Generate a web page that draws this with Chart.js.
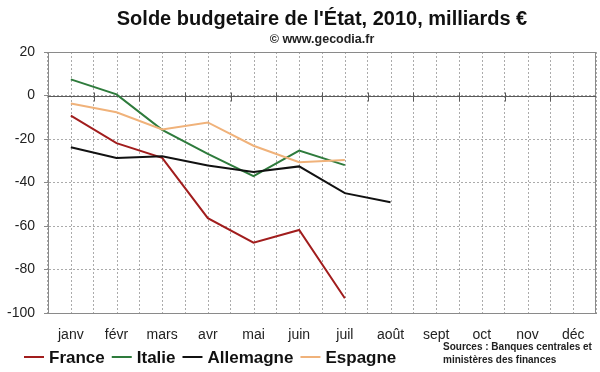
<!DOCTYPE html>
<html>
<head>
<meta charset="utf-8">
<script src="https://cdn.jsdelivr.net/npm/chart.js@4/dist/chart.umd.min.js"></script>
<style>
  html, body { margin: 0; padding: 0; background: #ffffff; }
  #wrap { width: 600px; height: 372px; }
</style>
</head>
<body>
<div id="wrap"><canvas id="c" width="600" height="372"></canvas></div>
<script>
const months = ['janv', 'févr', 'mars', 'avr', 'mai', 'juin', 'juil', 'août', 'sept', 'oct', 'nov', 'déc'];
const france    = [-9.3, -21.9, -28.7, -56.4, -67.7, -61.8, -93.2];
const italie    = [7.4, 0.5, -15.8, -26.8, -37.1, -25.3, -32.0];
const allemagne = [-23.8, -28.7, -27.9, -32.2, -35.2, -32.6, -44.9, -49.1];
const espagne   = [-3.7, -7.7, -15.6, -12.4, -23.1, -30.7, -29.7];
const yTicks = [20, 0, -20, -40, -60, -80, -100];
const seriesNames = ['France', 'Italie', 'Allemagne', 'Espagne'];
const titleText = "Solde budgetaire de l'État, 2010, milliards €";
const subtitleText = '© www.gecodia.fr';
const sourceLines = ['Sources : Banques centrales et', 'ministères des finances'];

Chart.defaults.font.family = "'Liberation Sans', Arial, sans-serif";
Chart.defaults.color = '#222222';

const extras = {
  id: 'extras',
  beforeDatasetsDraw(chart) {
    const ctx = chart.ctx;
    const a = chart.chartArea;
    const xs = chart.scales.x, ys = chart.scales.y;
    ctx.save();
    // dotted lines at category centres
    ctx.strokeStyle = '#ababab';
    ctx.lineWidth = 1;
    ctx.setLineDash([2, 2]);
    for (let i = 0; i < months.length; i++) {
      const px = Math.round(xs.getPixelForValue(i)) + 0.5;
      ctx.beginPath();
      ctx.moveTo(px, a.top);
      ctx.lineTo(px, a.bottom);
      ctx.stroke();
    }
    ctx.setLineDash([]);
    // top and right frame
    ctx.strokeStyle = '#8a8a8a';
    ctx.beginPath();
    ctx.moveTo(a.left, Math.round(a.top) + 0.5);
    ctx.lineTo(a.right, Math.round(a.top) + 0.5);
    ctx.moveTo(Math.round(a.right) - 0.5, a.top);
    ctx.lineTo(Math.round(a.right) - 0.5, a.bottom);
    ctx.stroke();
    // zero line with ticks at category boundaries
    const y0 = Math.round(ys.getPixelForValue(0)) + 0.5;
    ctx.strokeStyle = '#5a5a5a';
    ctx.beginPath();
    ctx.moveTo(a.left, y0);
    ctx.lineTo(a.right, y0);
    ctx.stroke();
    for (let i = 1; i < months.length; i++) {
      const px = Math.round((xs.getPixelForValue(i - 1) + xs.getPixelForValue(i)) / 2) + 0.5;
      ctx.beginPath();
      ctx.moveTo(px, y0 - 4);
      ctx.lineTo(px, y0 + 5);
      ctx.stroke();
    }
    ctx.restore();
  },
  afterDraw(chart) {
    const ctx = chart.ctx;
    ctx.save();
    // legend
    ctx.font = "bold 17px 'Liberation Sans', Arial, sans-serif";
    ctx.textBaseline = 'middle';
    ctx.textAlign = 'left';
    let x = 24;
    const ly = 357;
    chart.data.datasets.forEach(ds => {
      ctx.strokeStyle = ds.borderColor;
      ctx.lineWidth = 2;
      ctx.beginPath();
      ctx.moveTo(x, ly);
      ctx.lineTo(x + 20, ly);
      ctx.stroke();
      ctx.fillStyle = '#111111';
      ctx.fillText(ds.label, x + 25, ly + 1);
      x += 25 + ctx.measureText(ds.label).width + 7;
    });
    // sources
    ctx.font = "bold 10px 'Liberation Sans', Arial, sans-serif";
    ctx.fillStyle = '#222222';
    ctx.fillText(sourceLines[0], 443, 347);
    ctx.fillText(sourceLines[1], 443, 360);
    ctx.restore();
  }
};

const lineDs = (label, data, color, order) => ({
  label, data, borderColor: color, backgroundColor: color,
  borderWidth: 2, pointRadius: 0, tension: 0, fill: false, order
});

new Chart(document.getElementById('c'), {
  type: 'line',
  data: {
    labels: months,
    datasets: [
      lineDs(seriesNames[0], france, '#a11d1d', 4),
      lineDs(seriesNames[1], italie, '#2e7b3c', 3),
      lineDs(seriesNames[2], allemagne, '#111111', 2),
      lineDs(seriesNames[3], espagne, '#f0b27a', 1)
    ]
  },
  options: {
    responsive: false,
    animation: false,
    devicePixelRatio: 1,
    layout: { padding: { left: 0, right: 4, top: 0, bottom: 0 } },
    plugins: {
      legend: { display: false },
      tooltip: { enabled: false },
      title: {
        display: true, text: titleText, fullSize: false,
        color: '#111111',
        font: { size: 20, weight: 'bold' },
        padding: { top: 7, bottom: 0 }
      },
      subtitle: {
        display: true, text: subtitleText, fullSize: false,
        color: '#222222',
        font: { size: 12.5, weight: 'bold' },
        padding: { top: 1.5, bottom: 4.5 }
      }
    },
    scales: {
      x: {
        type: 'category',
        offset: true,
        grid: { offset: true, drawTicks: false, color: '#ababab', lineWidth: 1 },
        border: { display: true, color: '#8a8a8a', width: 1, dash: [2, 2] },
        ticks: { padding: 14, font: { size: 14 }, color: '#222222', maxRotation: 0, autoSkip: false },
        afterFit(s) { s.height = 59; }
      },
      y: {
        min: -100, max: 20,
        afterBuildTicks(s) { s.ticks = yTicks.map(v => ({ value: v })); },
        grid: { color: '#ababab', lineWidth: 1, tickLength: 4, tickColor: '#8a8a8a' },
        border: { display: true, color: '#8a8a8a', width: 1, dash: [2, 2] },
        ticks: { padding: 9, font: { size: 14 }, color: '#222222' },
        afterFit(s) { s.width = 48; }
      }
    }
  },
  plugins: [extras]
});
</script>
</body>
</html>
